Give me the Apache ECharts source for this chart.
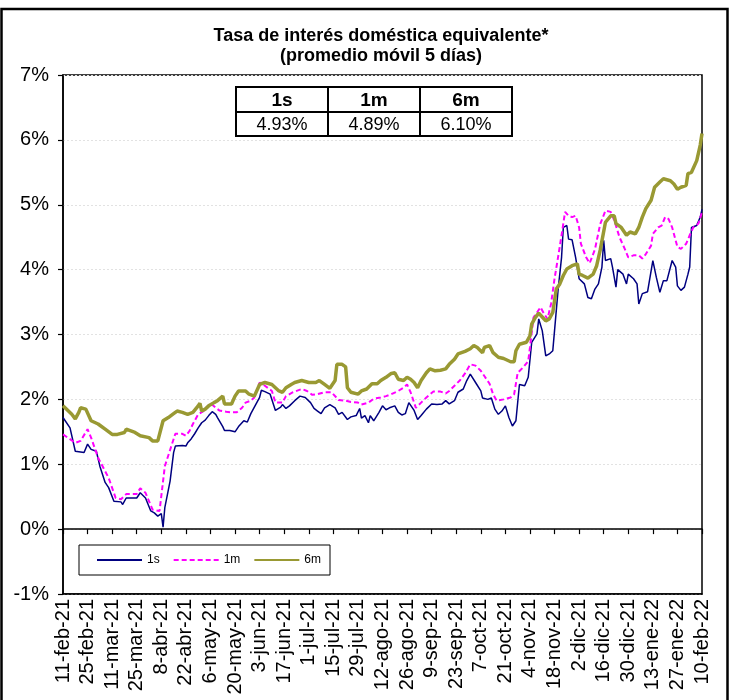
<!DOCTYPE html>
<html>
<head>
<meta charset="utf-8">
<script src="https://cdn.jsdelivr.net/npm/echarts@6/dist/echarts.min.js"></script>
<style>
  html, body { margin: 0; padding: 0; background: #fff; }
  #chart { width: 731px; height: 700px; }
</style>
</head>
<body>
<div id="chart"></div>
<script>
// Etiquetas del eje X: cada 14 días desde el 11-feb-21
const fechasEje = ['11-feb-21','25-feb-21','11-mar-21','25-mar-21','8-abr-21','22-abr-21','6-may-21',
  '20-may-21','3-jun-21','17-jun-21','1-jul-21','15-jul-21','29-jul-21','12-ago-21','26-ago-21',
  '9-sep-21','23-sep-21','7-oct-21','21-oct-21','4-nov-21','18-nov-21','2-dic-21','16-dic-21',
  '30-dic-21','13-ene-22','27-ene-22','10-feb-22'];

// Días transcurridos desde el 11-feb-21 y tasa (%) de cada plazo
const dias1s = [0,4,7,12,14,16,19,21,24,26,29,33,34,36,42,44,47,50,52,54,56,57,58,61,63,64,68,70,71,73,
  75,77,79,81,83,85,87,88,91,92,95,98,100,103,105,107,108,110,112,113,115,118,121,124,125,127,129,132,135,138,
  141,143,145,147,149,152,155,157,159,162,164,167,169,170,172,174,175,177,180,182,184,186,189,191,193,195,197,200,202,204,
  207,210,213,216,218,220,223,225,228,230,232,235,238,239,242,244,246,248,250,252,254,256,258,260,263,265,267,270,271,273,
  275,277,279,280,282,284,285,287,288,290,292,294,295,297,299,301,303,305,307,308,309,312,313,315,316,319,321,322,325,327,
  328,330,333,336,338,340,342,344,347,349,350,352,354,356,357,358,361,363,364];
const valores1s = [1.72,1.56,1.20,1.18,1.31,1.23,1.20,0.97,0.72,0.64,0.43,0.42,0.38,0.48,0.48,0.56,0.48,0.28,0.25,0.20,
  0.24,0.03,0.33,0.74,1.18,1.28,1.29,1.28,1.33,1.39,1.47,1.56,1.64,1.68,1.75,1.81,1.77,1.72,1.58,1.52,
  1.52,1.50,1.58,1.67,1.65,1.78,1.83,1.93,2.03,2.14,2.12,2.08,1.83,1.88,1.92,1.86,1.90,1.98,2.05,2.03,
  1.95,1.86,1.82,1.78,1.87,1.92,1.87,1.77,1.80,1.69,1.73,1.75,1.86,1.71,1.75,1.64,1.75,1.67,1.80,1.90,
  1.84,1.87,1.90,1.80,1.76,1.78,1.95,1.83,1.69,1.75,1.85,1.93,1.92,1.93,1.98,1.93,1.98,2.11,2.16,2.29,
  2.39,2.26,2.13,2.02,2.00,2.02,1.85,1.77,1.82,1.90,1.72,1.59,1.67,2.23,2.21,2.34,2.88,3.01,3.24,3.06,
  2.67,2.70,2.75,3.06,3.68,4.19,4.65,4.68,4.47,4.46,4.19,3.86,3.88,3.78,3.57,3.55,3.70,3.78,4.04,4.45,
  4.14,4.17,4.04,3.73,4.00,3.93,3.78,3.93,3.86,3.78,3.47,3.63,3.66,4.14,3.88,3.65,3.83,3.83,4.14,4.04,
  3.75,3.68,3.73,3.93,4.04,4.65,4.68,4.81,4.93];

const dias1m = [0,7,10,14,16,20,26,30,33,36,42,44,47,51,55,58,61,64,68,70,72,74,77,80,84,87,89,93,96,99,
  102,104,107,109,112,115,119,121,125,127,131,136,139,142,145,149,153,157,161,164,168,170,174,177,181,184,187,191,194,196,
  198,200,201,204,207,211,215,218,220,223,226,229,232,235,238,240,243,245,247,251,255,257,259,262,265,266,268,270,272,274,
  276,278,280,282,284,286,288,290,292,294,295,298,300,303,306,309,312,314,317,320,322,325,328,330,332,335,336,339,341,343,
  345,347,350,352,355,357,359,362,364];
const valores1m = [1.46,1.33,1.36,1.54,1.41,1.10,0.79,0.48,0.46,0.54,0.54,0.63,0.56,0.30,0.28,0.97,1.22,1.47,1.47,1.44,
  1.51,1.62,1.77,1.82,1.94,1.87,1.83,1.81,1.80,1.80,1.87,1.95,1.98,2.03,2.26,2.21,2.13,1.95,1.95,2.05,
  2.11,2.16,2.13,2.07,2.08,2.11,2.11,1.99,1.98,1.96,1.95,1.92,1.95,2.01,2.03,2.05,2.08,2.13,2.18,2.23,
  2.11,1.95,1.87,1.95,2.03,2.12,2.12,2.09,2.13,2.21,2.29,2.40,2.54,2.52,2.44,2.36,2.24,2.08,1.98,2.00,
  2.03,2.08,2.41,2.49,2.59,2.80,3.26,3.34,3.42,3.32,3.24,3.47,3.86,4.19,4.53,4.89,4.83,4.81,4.83,4.65,
  4.40,4.19,4.10,4.31,4.70,4.91,4.89,4.76,4.50,4.32,4.19,4.22,4.22,4.17,4.24,4.37,4.55,4.65,4.68,4.81,
  4.78,4.65,4.35,4.32,4.40,4.53,4.65,4.71,4.89];

const dias6m = [0,5,7,9,10,13,16,20,24,28,31,35,36,41,44,49,51,54,57,60,63,65,68,71,74,77,78,79,81,83,
  86,88,91,92,96,98,100,104,106,109,112,115,119,123,125,127,130,132,136,140,144,146,149,152,155,156,159,161,162,164,
  168,170,173,176,179,181,182,184,187,189,191,194,196,198,200,202,204,207,209,212,215,218,220,223,225,229,232,234,236,239,
  240,243,245,248,251,255,257,258,260,264,266,267,269,271,273,275,277,279,280,281,283,285,287,290,293,294,296,299,302,304,
  306,309,312,314,315,318,321,323,326,328,330,332,335,337,340,342,346,348,350,352,355,356,358,361,363,364];
const valores6m = [1.90,1.77,1.70,1.80,1.87,1.85,1.67,1.62,1.54,1.46,1.46,1.49,1.54,1.49,1.44,1.41,1.36,1.36,1.67,1.72,
  1.78,1.82,1.80,1.77,1.80,1.90,1.94,1.82,1.85,1.90,1.95,1.98,2.05,1.93,1.93,2.05,2.13,2.13,2.08,2.05,
  2.23,2.26,2.23,2.13,2.11,2.18,2.23,2.26,2.29,2.26,2.26,2.29,2.23,2.17,2.29,2.54,2.54,2.50,2.18,2.11,
  2.08,2.13,2.16,2.24,2.24,2.29,2.26,2.34,2.40,2.41,2.31,2.29,2.34,2.31,2.26,2.18,2.29,2.41,2.47,2.44,
  2.45,2.47,2.54,2.62,2.70,2.74,2.78,2.83,2.80,2.72,2.80,2.83,2.72,2.65,2.63,2.58,2.58,2.75,2.85,2.88,
  2.98,3.16,3.26,3.33,3.27,3.21,3.24,3.34,3.52,3.70,3.78,3.91,4.01,4.06,4.09,3.93,3.91,3.87,3.93,4.06,
  4.30,4.73,4.83,4.83,4.71,4.65,4.53,4.58,4.55,4.65,4.81,4.94,5.07,5.27,5.35,5.40,5.37,5.32,5.24,5.27,
  5.30,5.48,5.50,5.68,5.92,6.10];

const plazos = ['1s', '1m', '6m'];
const FUENTE = '"Liberation Sans", Arial, sans-serif';

const definiciones = [
  { nombre: plazos[0], dias: dias1s, valores: valores1s,
    linea: { color: '#000080', width: 1.5, type: 'solid' } },
  { nombre: plazos[1], dias: dias1m, valores: valores1m,
    linea: { color: '#FF00FF', width: 2, type: [5, 3] } },
  { nombre: plazos[2], dias: dias6m, valores: valores6m,
    linea: { color: '#999933', width: 3.5, type: 'solid' } }
];

// Último dato de cada plazo, mostrado en el cuadro superior
const ultimos = definiciones.map(d => d.valores[d.valores.length - 1]);

// Cuadro con el último valor de cada plazo
const T = { x: 236, y: 87, w: 276, h1: 25, h2: 24 };
const colW = T.w / 3;
const cuadro = [];
cuadro.push({ type: 'rect', shape: { x: T.x, y: T.y, width: T.w, height: T.h1 + T.h2 },
  style: { fill: '#fff', stroke: '#000', lineWidth: 2 }, z: 100 });
cuadro.push({ type: 'line', shape: { x1: T.x, y1: T.y + T.h1, x2: T.x + T.w, y2: T.y + T.h1 },
  style: { stroke: '#000', lineWidth: 2 }, z: 101 });
for (let i = 1; i < 3; i++) {
  cuadro.push({ type: 'line', shape: { x1: T.x + colW * i, y1: T.y, x2: T.x + colW * i, y2: T.y + T.h1 + T.h2 },
    style: { stroke: '#000', lineWidth: 2 }, z: 101 });
}
plazos.forEach((p, i) => {
  const cx = T.x + colW * (i + 0.5);
  cuadro.push({ type: 'text', x: cx, y: T.y + T.h1 / 2 + 1, z: 102,
    style: { text: p, font: 'bold 19px ' + FUENTE, fill: '#000', align: 'center', verticalAlign: 'middle' } });
  cuadro.push({ type: 'text', x: cx, y: T.y + T.h1 + T.h2 / 2 + 1, z: 102,
    style: { text: ultimos[i].toFixed(2) + '%', font: '18px ' + FUENTE, fill: '#000', align: 'center', verticalAlign: 'middle' } });
});

const chart = echarts.init(document.getElementById('chart'), null, { renderer: 'canvas' });

const ejeBase = { type: 'value', min: 0, max: 364, interval: 14, gridIndex: 0 };

chart.setOption({
  animation: false,
  backgroundColor: '#fff',
  textStyle: { fontFamily: FUENTE },
  grid: { left: 63, right: 29, top: 75, bottom: 106, show: true, borderColor: '#000', borderWidth: 1.5 },
  legend: {
    data: plazos,
    left: 79, top: 545,
    backgroundColor: '#fff', borderColor: '#000', borderWidth: 1,
    padding: [9, 9, 9, 17],
    itemGap: 13, itemWidth: 45, itemHeight: 10,
    itemStyle: { opacity: 0 },
    textStyle: { fontSize: 12, color: '#000', fontFamily: FUENTE }
  },
  xAxis: [
    Object.assign({}, ejeBase, {
      position: 'bottom',
      axisLine: { show: true, onZero: false, lineStyle: { color: '#000', width: 1.5 } },
      axisTick: { show: false },
      splitLine: { show: false },
      axisLabel: {
        rotate: 90, margin: 5, fontSize: 20, color: '#000', fontFamily: FUENTE,
        formatter: v => fechasEje[Math.round(v / 14)] || ''
      }
    }),
    Object.assign({}, ejeBase, {
      position: 'bottom',
      axisLine: { show: true, onZero: true, lineStyle: { color: '#000', width: 1.5 } },
      axisTick: { show: true, inside: false, length: 5, lineStyle: { color: '#000', width: 1.2 } },
      axisLabel: { show: false },
      splitLine: { show: false }
    })
  ],
  yAxis: {
    type: 'value', min: -1, max: 7, interval: 1,
    axisLine: { show: true, lineStyle: { color: '#000', width: 1.5 } },
    axisTick: { show: true, length: 5, lineStyle: { color: '#000', width: 1.2 } },
    axisLabel: { fontSize: 20, color: '#000', margin: 14, formatter: '{value}%', fontFamily: FUENTE },
    splitLine: { show: true, lineStyle: { color: '#e2e2e2', width: 1, type: [2, 2] } }
  },
  series: definiciones.map(d => ({
    name: d.nombre,
    type: 'line',
    xAxisIndex: 0,
    symbol: 'none',
    lineStyle: d.linea,
    itemStyle: { color: d.linea.color },
    data: d.dias.map((dia, i) => [dia, d.valores[i]])
  })),
  graphic: [
    { type: 'rect', shape: { x: 1.5, y: 9, width: 726, height: 700 },
      style: { fill: null, stroke: '#000', lineWidth: 2.5 }, z: 200 },
    { type: 'text', x: 381, y: 36, z: 50,
      style: { text: 'Tasa de interés doméstica equivalente*', font: 'bold 18px ' + FUENTE,
        fill: '#000', align: 'center', verticalAlign: 'middle' } },
    { type: 'text', x: 381, y: 56, z: 50,
      style: { text: '(promedio móvil 5 días)', font: 'bold 18px ' + FUENTE,
        fill: '#000', align: 'center', verticalAlign: 'middle' } }
  ].concat(cuadro)
});
</script>
</body>
</html>
